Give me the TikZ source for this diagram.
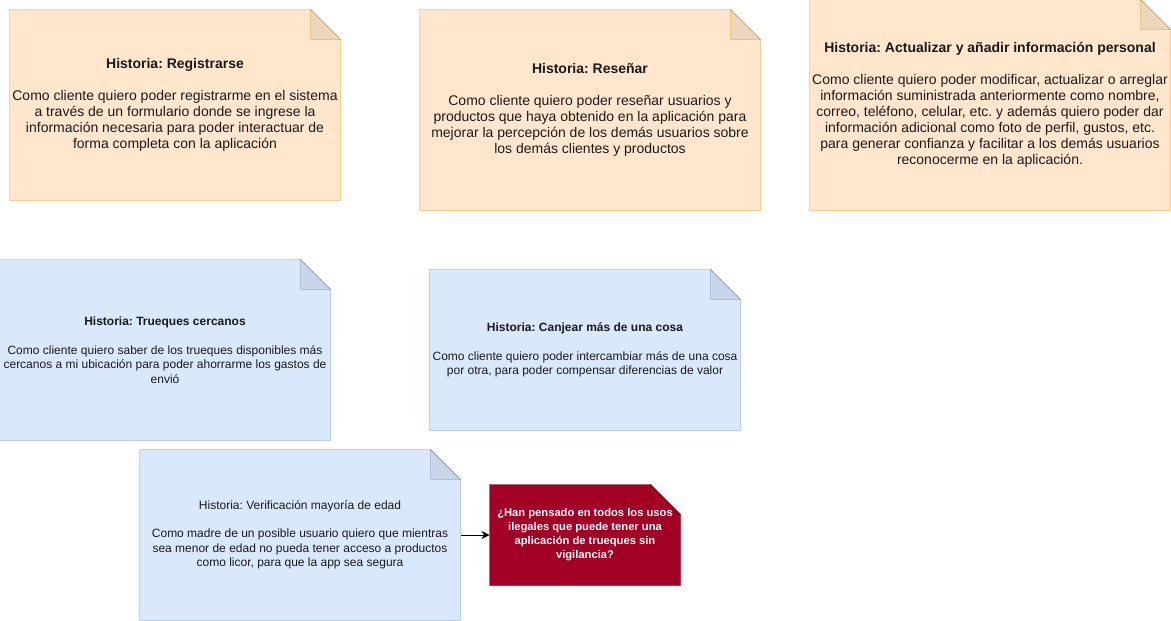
\documentclass[tikz,border=0pt]{standalone}
\usepackage{fontspec}
\setmainfont{Liberation Sans}
\usepackage{tikz}
\usetikzlibrary{arrows.meta,backgrounds}
\definecolor{orfill}{HTML}{FFE6CC}
\definecolor{orline}{HTML}{D79B00}
\definecolor{blfill}{HTML}{DAE8FC}
\definecolor{blline}{HTML}{6C8EBF}
\definecolor{rdfill}{HTML}{A20025}
\definecolor{rdline}{HTML}{6F0000}
\definecolor{txt}{HTML}{1A1A1A}
% outline of a note with a folded corner: node, fill, fold fill, line
\newcommand{\notefold}[4]{%
  \filldraw[fill=#2,draw=#4] (#1.north west) -- ([xshift=-30pt]#1.north east) -- ([yshift=-30pt]#1.north east) -- (#1.south east) -- (#1.south west) -- cycle;
  \filldraw[fill=#3,draw=#4] ([xshift=-30pt]#1.north east) -- ([xshift=-30pt,yshift=-30pt]#1.north east) -- ([yshift=-30pt]#1.north east) -- cycle;
}

\begin{document}
\begin{tikzpicture}[x=1pt,y=-1pt,line width=1pt,
  story/.style={inner sep=0pt,align=center,text=txt},
  bigtxt/.style={story,font=\frenchspacing\fontsize{14}{16}\selectfont},
  smalltxt/.style={story,font=\frenchspacing\fontsize{12}{14.5}\selectfont}]
  \useasboundingbox (0,0) rectangle (1171,621);
  \node[bigtxt,minimum width=330pt,minimum height=190pt] (reg) at (175,105) {\textbf{Historia: Registrarse}\\[16pt]Como cliente quiero poder registrarme en el sistema\\a través de un formulario donde se ingrese la\\información necesaria para poder interactuar de\\forma completa con la aplicación};
  \node[bigtxt,minimum width=340pt,minimum height=200pt] (res) at (590,110) {\textbf{Historia: Reseñar}\\[16pt]Como cliente quiero poder reseñar usuarios y\\productos que haya obtenido en la aplicación para\\mejorar la percepción de los demás usuarios sobre\\los demás clientes y productos};
  \node[bigtxt,minimum width=360pt,minimum height=210pt] (act) at (990,105) {\textbf{Historia: Actualizar y añadir información personal}\\[16pt]Como cliente quiero poder modificar, actualizar o arreglar\\información suministrada anteriormente como nombre,\\correo, teléfono, celular, etc. y además quiero poder dar\\información adicional como foto de perfil, gustos, etc.\\para generar confianza y facilitar a los demás usuarios\\reconocerme en la aplicación.};
  \node[smalltxt,minimum width=330pt,minimum height=180pt] (tru) at (165,350) {\textbf{Historia: Trueques cercanos}\\[14pt]Como cliente quiero saber de los trueques disponibles más\\cercanos a mi ubicación para poder ahorrarme los gastos de\\envió};
  \node[smalltxt,minimum width=310pt,minimum height=160pt] (can) at (585,350) {\textbf{Historia: Canjear más de una cosa}\\[14pt]Como cliente quiero poder intercambiar más de una cosa\\por otra, para poder compensar diferencias de valor};
  \node[smalltxt,minimum width=320pt,minimum height=170pt] (ver) at (300,535) {Historia: Verificación mayoría de edad\\[14pt]Como madre de un posible usuario quiero que mientras\\sea menor de edad no pueda tener acceso a productos\\como licor, para que la app sea segura};
  \node[story,text=white,font=\frenchspacing\bfseries\fontsize{11.2}{14}\selectfont,minimum width=190pt,minimum height=100pt] (ask) at (585,535) {¿Han pensado en todos los usos\\ilegales que puede tener una\\aplicación de trueques sin\\vigilancia?};
  \draw[-{Stealth[length=8pt,width=8pt,inset=2.5pt]}] (ver) -- (ask);
  \begin{scope}[on background layer]
    \notefold{reg}{orfill}{orfill!93!black}{orline}
    \notefold{res}{orfill}{orfill!93!black}{orline}
    \notefold{act}{orfill}{orfill!93!black}{orline}
    \notefold{tru}{blfill}{blfill!92!black}{blline}
    \notefold{can}{blfill}{blfill!92!black}{blline}
    \notefold{ver}{blfill}{blfill!92!black}{blline}
    \notefold{ask}{rdfill}{rdfill}{rdline}
  \end{scope}
\end{tikzpicture}
\end{document}
